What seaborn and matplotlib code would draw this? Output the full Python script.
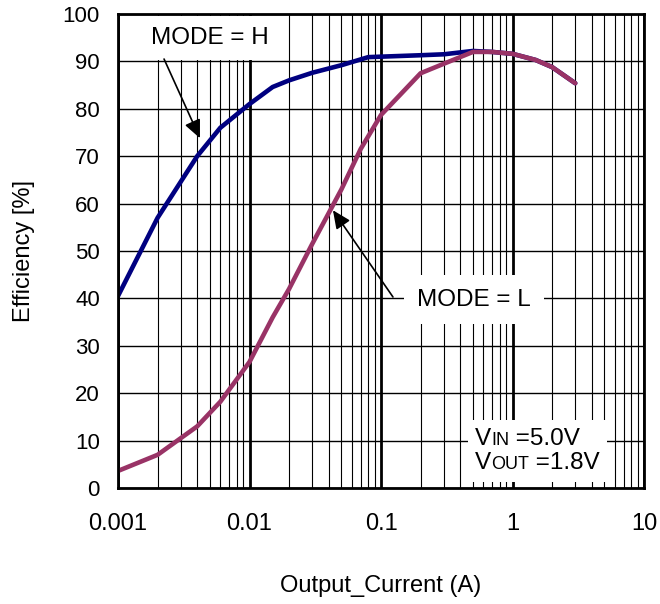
import matplotlib
matplotlib.use("Agg")
import matplotlib.pyplot as plt
import matplotlib.ticker as ticker
from matplotlib.offsetbox import TextArea, HPacker, VPacker, AnnotationBbox
import pandas as pd
import seaborn as sns

# output current (A) and efficiency (%)
current_h = [0.001, 0.002, 0.004, 0.006, 0.01, 0.015, 0.02, 0.03, 0.05, 0.08,
             0.1, 0.2, 0.3, 0.5, 0.7, 1.0, 1.5, 2.0, 3.0]
eff_mode_h = [40.5, 57, 70, 76, 81, 84.6, 86, 87.6, 89.2, 90.9,
              91, 91.3, 91.5, 92.2, 92, 91.6, 90.3, 88.8, 85.4]
current_l = [0.001, 0.002, 0.004, 0.006, 0.01, 0.015, 0.02, 0.03, 0.05, 0.07,
             0.1, 0.2, 0.3, 0.5, 0.7, 1.0, 1.5, 2.0, 3.0]
eff_mode_l = [3.6, 7, 13, 18.2, 26.6, 36, 42, 51.5, 63, 71.5,
              78.7, 87.5, 89.5, 92, 92, 91.6, 90.3, 88.8, 85.4]
x_ticks = [0.001, 0.01, 0.1, 1, 10]
y_ticks = list(range(0, 101, 10))

df_h = pd.DataFrame({'current': current_h, 'eff': eff_mode_h})
df_l = pd.DataFrame({'current': current_l, 'eff': eff_mode_l})

sns.set_style('white')
plt.rcParams['font.family'] = ['Liberation Sans', 'DejaVu Sans']
plt.rcParams['text.color'] = 'black'
plt.rcParams['axes.labelcolor'] = 'black'

fig, ax = plt.subplots(figsize=(6.6, 6.04), dpi=100)
fig.subplots_adjust(left=118/660, right=644/660, top=1-14/604, bottom=1-488/604)

sns.lineplot(data=df_h, x='current', y='eff', color='#000080', lw=3.3, ax=ax, estimator=None)
sns.lineplot(data=df_l, x='current', y='eff', color='#993366', lw=3.3, ax=ax, estimator=None)

ax.set_xscale('log')
ax.set_xlim(0.001, 10)
ax.set_ylim(0, 100)
ax.set_xticks(x_ticks)
ax.set_yticks(y_ticks)
ax.xaxis.set_major_formatter(ticker.FuncFormatter(lambda v, pos: '{:g}'.format(v)))
ax.xaxis.set_minor_locator(ticker.LogLocator(base=10, subs=range(2, 10), numticks=20))
ax.xaxis.set_minor_formatter(ticker.NullFormatter())

# grid like the datasheet
ax.set_axisbelow(True)
ax.grid(which='major', axis='x', color='black', lw=2)
ax.grid(which='minor', axis='x', color='black', lw=0.8)
ax.grid(which='major', axis='y', color='black', lw=1)
for s in ax.spines.values():
    s.set_color('black')
    s.set_linewidth(2)
ax.tick_params(which='both', length=0, colors='black')
ax.tick_params(axis='x', labelsize=17, pad=18)
ax.tick_params(axis='y', labelsize=16, pad=13)

ax.set_xlabel('Output_Current (A)', fontsize=17, labelpad=29)
ax.set_ylabel('Efficiency [%]', fontsize=17, labelpad=20)

arrow = dict(arrowstyle='-|>,head_length=0.55,head_width=0.25', color='black',
             lw=1.2, mutation_scale=20, shrinkA=0, shrinkB=0)

ax.text(0.005, 94.9, 'MODE = H', fontsize=17.5, ha='center', va='center',
        bbox=dict(boxstyle='square,pad=0.45', fc='white', ec='none'))
ax.annotate('', xy=(0.0042, 73.8), xytext=(0.00224, 90.5), arrowprops=arrow)

ax.text(0.51, 39.7, 'MODE = L', fontsize=17.5, ha='center', va='center',
        bbox=dict(boxstyle='square,pad=0.55', fc='white', ec='none'))
ax.annotate('', xy=(0.0431, 58.6), xytext=(0.1233, 40.3), arrowprops=arrow)

# VIN / VOUT note with small caps subscripts
big = dict(size=17.5, color='black')
small = dict(size=13, color='black')
line1 = HPacker(children=[TextArea('V', textprops=big), TextArea('IN', textprops=small),
                          TextArea(' =5.0V', textprops=big)], align='baseline', pad=0, sep=0)
line2 = HPacker(children=[TextArea('V', textprops=big), TextArea('OUT', textprops=small),
                          TextArea(' =1.8V', textprops=big)], align='baseline', pad=0, sep=0)
note = VPacker(children=[line1, line2], align='left', pad=0, sep=2)
ab = AnnotationBbox(note, (1.55, 7.8), xycoords='data', frameon=True, pad=0.55,
                    bboxprops=dict(fc='white', ec='none'))
ax.add_artist(ab)

fig.savefig('out.png', dpi=100)
